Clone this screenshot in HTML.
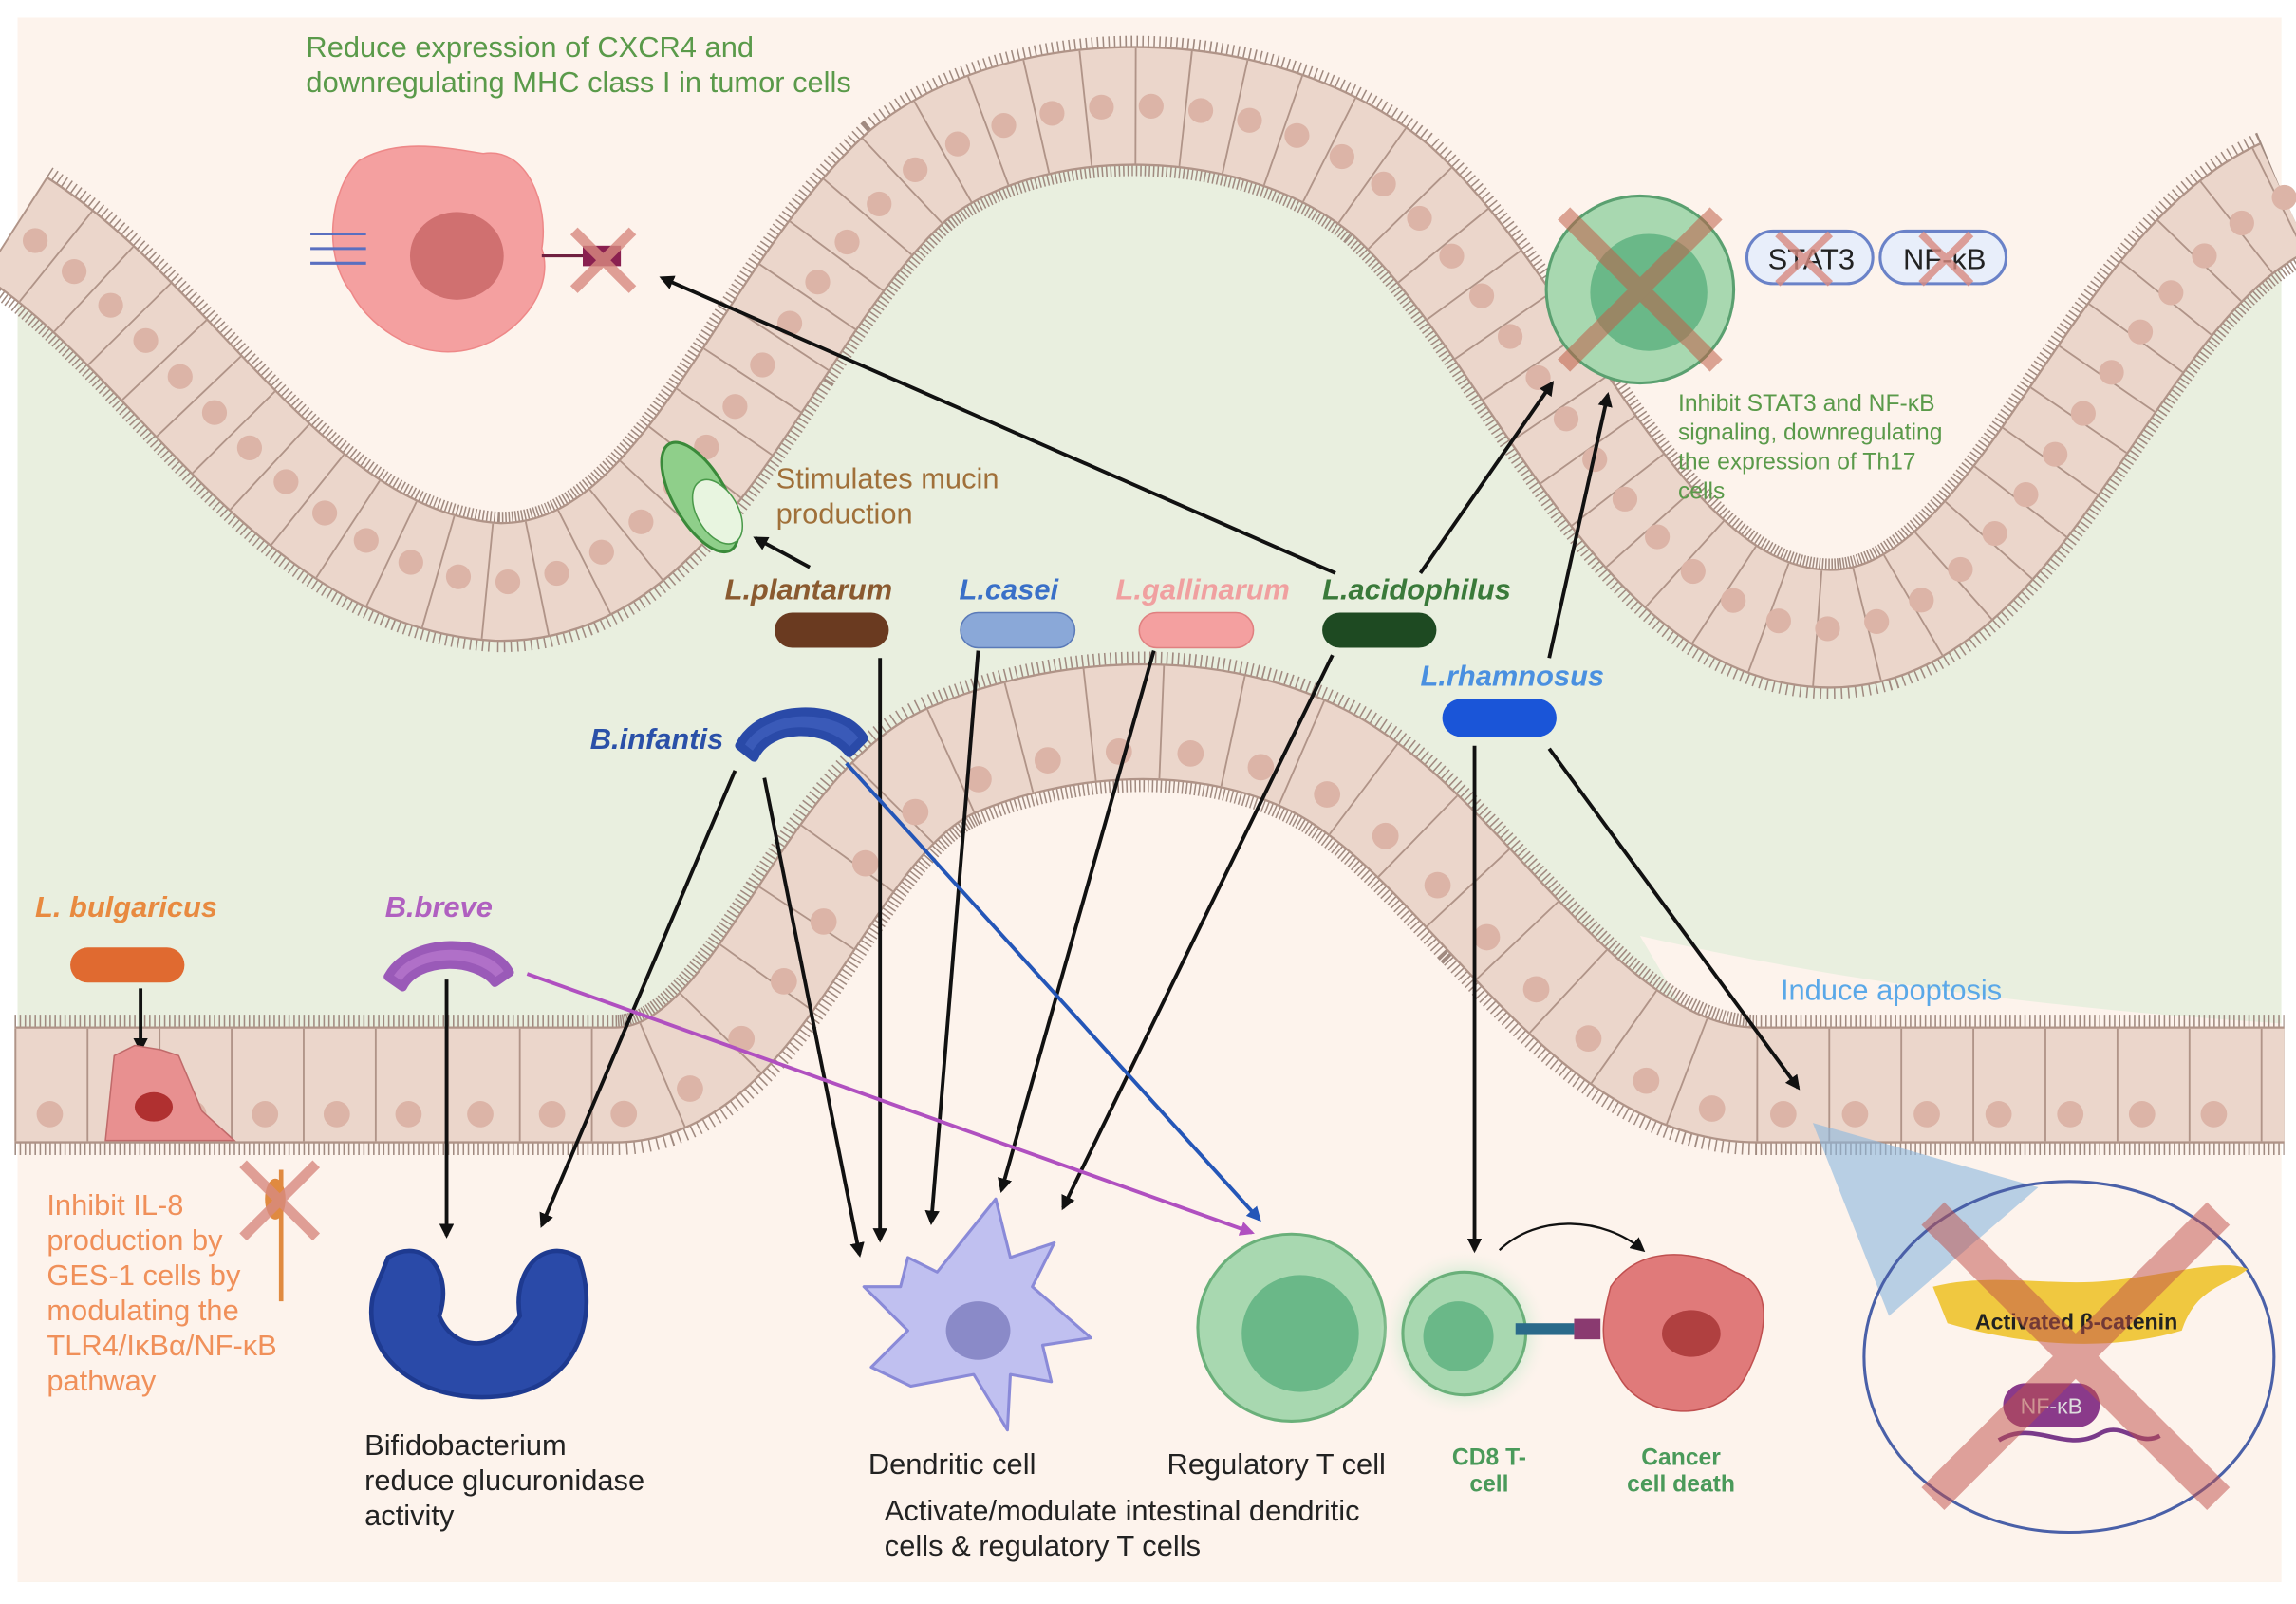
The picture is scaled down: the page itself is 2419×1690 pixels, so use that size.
<!DOCTYPE html>
<html><head><meta charset="utf-8"><style>
html,body{margin:0;padding:0;background:#fff}
svg{display:block}
text{font-family:"Liberation Sans",sans-serif}
</style></head><body>
<svg width="2419" height="1690" viewBox="0 0 1568 1097" preserveAspectRatio="none" xmlns="http://www.w3.org/2000/svg">
<defs>
<marker id="ah" markerWidth="10" markerHeight="10" refX="8" refY="5" orient="auto" markerUnits="userSpaceOnUse"><path d="M0,0 L10,5 L0,10 z" fill="#111"/></marker>
<marker id="ahb" markerWidth="10" markerHeight="10" refX="8" refY="5" orient="auto" markerUnits="userSpaceOnUse"><path d="M0,0 L10,5 L0,10 z" fill="#2456b8"/></marker>
<marker id="ahp" markerWidth="10" markerHeight="10" refX="8" refY="5" orient="auto" markerUnits="userSpaceOnUse"><path d="M0,0 L10,5 L0,10 z" fill="#b050c0"/></marker>
<radialGradient id="glow"><stop offset="0.6" stop-color="#bfe8c8"/><stop offset="1" stop-color="#fdf3ec" stop-opacity="0"/></radialGradient>
<path id="tb" d="M10,155 C120,225 200,390 340,398 C470,400 520,210 620,120 C700,55 860,55 950,130 C1050,220 1120,430 1250,430 C1380,430 1440,190 1560,135"/>
<path id="lb" d="M10,742 L420,742 C520,742 560,560 650,520 C720,490 820,480 900,520 C1000,570 1080,742 1200,742 L1560,742"/>
</defs>
<rect x="0" y="0" width="1568" height="1097" fill="#fff"/>
<rect x="12" y="12" width="1546" height="1070" fill="#e9efdf"/>
<path d="M12,12 L1558,12 L1558,135 C1440,190 1380,430 1250,430 C1120,430 1050,220 950,130 C860,55 700,55 620,120 C520,210 470,400 340,398 C200,390 120,225 12,155 Z" fill="#fdf3ec"/>
<path d="M12,742 L420,742 C520,742 560,560 650,520 C720,490 820,480 900,520 C1000,570 1080,742 1200,742 L1558,742 L1558,1082 L12,1082 Z" fill="#fdf3ec"/>
<path d="M1120,640 C1250,670 1400,690 1558,700 L1558,742 L1180,742 Z" fill="#fdf3ec"/>
<g fill="none">
<use href="#tb" stroke="#a08a80" stroke-width="96" stroke-dasharray="1 2.4"/>
<use href="#tb" stroke="#b09488" stroke-width="82"/>
<use href="#tb" stroke="#ebd6cb" stroke-width="79"/>
<use href="#tb" stroke="#b09488" stroke-width="79" stroke-dasharray="1.2 33"/>
<use href="#tb" stroke="#dcb4a7" stroke-width="17" stroke-linecap="round" stroke-dasharray="0 34" stroke-dashoffset="-17"/>
<use href="#lb" stroke="#a08a80" stroke-width="96" stroke-dasharray="1 2.4"/>
<use href="#lb" stroke="#b09488" stroke-width="80"/>
<use href="#lb" stroke="#ebd6cb" stroke-width="77"/>
<use href="#lb" stroke="#b09488" stroke-width="77" stroke-dasharray="1.2 48"/>
<use href="#lb" stroke="#dcb4a7" stroke-width="18" stroke-linecap="round" stroke-dasharray="0 49" stroke-dashoffset="-24" transform="translate(0,20)"/>
</g>
<path d="M245,110 C270,95 300,100 330,105 C360,100 375,140 370,170 C380,200 350,235 315,240 C280,245 250,220 240,200 C220,175 225,130 245,110Z" fill="#f4a0a0" stroke="#e88"/>
<ellipse cx="312" cy="175" rx="32" ry="30" fill="#d07070"/>
<g stroke="#5a6fc0" stroke-width="2"><line x1="212" y1="160" x2="250" y2="160"/><line x1="212" y1="170" x2="250" y2="170"/><line x1="212" y1="180" x2="250" y2="180"/></g>
<line x1="370" y1="175" x2="400" y2="175" stroke="#702040" stroke-width="2"/>
<rect x="398" y="168" width="26" height="14" fill="#8a2050"/>
<g stroke="#d88a80" stroke-width="7" opacity="0.8"><line x1="392" y1="158" x2="432" y2="198"/><line x1="432" y1="158" x2="392" y2="198"/></g>
<text x="209" y="39" font-size="20" fill="#5a9a4a">Reduce expression of CXCR4 and</text>
<text x="209" y="63" font-size="20" fill="#5a9a4a">downregulating MHC class I in tumor cells</text>
<ellipse cx="478" cy="340" rx="18" ry="42" transform="rotate(-30 478 340)" fill="#8fcf8a" stroke="#3a8a3a" stroke-width="2"/>
<ellipse cx="490" cy="350" rx="14" ry="24" transform="rotate(-30 490 350)" fill="#e8f5e0" stroke="#4a9a4a"/>
<text x="530" y="334" font-size="20" fill="#a0703a">Stimulates mucin</text>
<text x="530" y="358" font-size="20" fill="#a0703a">production</text>
<circle cx="1120" cy="198" r="64" fill="#a8d8b0" stroke="#5aa070" stroke-width="2"/>
<circle cx="1126" cy="200" r="40" fill="#6ab888"/>
<g stroke="#c0604a" stroke-width="12" opacity="0.55"><line x1="1068" y1="146" x2="1172" y2="250"/><line x1="1172" y1="146" x2="1068" y2="250"/></g>
<rect x="1193" y="158" width="86" height="36" rx="18" fill="#e8eefa" stroke="#6a82c8" stroke-width="2"/>
<rect x="1284" y="158" width="86" height="36" rx="18" fill="#e8eefa" stroke="#6a82c8" stroke-width="2"/>
<text x="1237" y="184" font-size="20" fill="#222" text-anchor="middle">STAT3</text>
<text x="1328" y="184" font-size="20" fill="#222" text-anchor="middle">NF-κB</text>
<g stroke="#d88a80" stroke-width="5" opacity="0.8"><line x1="1214" y1="160" x2="1250" y2="194"/><line x1="1250" y1="160" x2="1214" y2="194"/><line x1="1312" y1="160" x2="1346" y2="194"/><line x1="1346" y1="160" x2="1312" y2="194"/></g>
<g font-size="16" fill="#5a9a4a"><text x="1146" y="281">Inhibit STAT3 and NF-κB</text><text x="1146" y="301">signaling, downregulating</text><text x="1146" y="321">the expression of Th17</text><text x="1146" y="341">cells</text></g>
<g font-size="20" font-weight="bold" font-style="italic">
<text x="495" y="410" fill="#8a5a30">L.plantarum</text>
<text x="655" y="410" fill="#3a70c8">L.casei</text>
<text x="762" y="410" fill="#f0a0a0">L.gallinarum</text>
<text x="903" y="410" fill="#3a7a3a">L.acidophilus</text>
<text x="970" y="469" fill="#4a90e0">L.rhamnosus</text>
<text x="403" y="512" fill="#2a50a8">B.infantis</text>
<text x="24" y="627" fill="#e88a40">L. bulgaricus</text>
<text x="263" y="627" fill="#b060c0">B.breve</text>
</g>
<rect x="529" y="419" width="78" height="24" rx="12" fill="#6a3a20"/>
<rect x="656" y="419" width="78" height="24" rx="12" fill="#8aa8d8" stroke="#5a7ab8"/>
<rect x="778" y="419" width="78" height="24" rx="12" fill="#f4a0a0" stroke="#e08080"/>
<rect x="903" y="419" width="78" height="24" rx="12" fill="#1e4a22"/>
<rect x="985" y="478" width="78" height="26" rx="13" fill="#1a55d8"/>
<rect x="48" y="648" width="78" height="24" rx="12" fill="#e06a30"/>
<path d="M505,510 C520,480 575,480 590,505 L580,515 C565,495 525,495 515,518 Z" fill="#3a5ab8" stroke="#2a4aa8" stroke-width="6" stroke-linejoin="round"/>
<path d="M265,668 C280,640 335,640 348,665 L338,672 C325,655 285,655 275,675 Z" fill="#b070c8" stroke="#9a5ab8" stroke-width="6" stroke-linejoin="round"/>
<g stroke="#111" stroke-width="2.5" marker-end="url(#ah)">
<line x1="912" y1="392" x2="452" y2="190"/>
<line x1="553" y1="388" x2="516" y2="368"/>
<line x1="970" y1="392" x2="1060" y2="262"/>
<line x1="1058" y1="450" x2="1098" y2="270"/>
<line x1="601" y1="450" x2="601" y2="848"/>
<line x1="668" y1="445" x2="636" y2="836"/>
<line x1="788" y1="445" x2="684" y2="814"/>
<line x1="910" y1="448" x2="726" y2="826"/>
<line x1="522" y1="532" x2="587" y2="858"/>
<line x1="502" y1="527" x2="370" y2="838"/>
<line x1="305" y1="670" x2="305" y2="845"/>
<line x1="96" y1="676" x2="96" y2="718"/>
<line x1="1007" y1="510" x2="1007" y2="855"/>
<line x1="1058" y1="512" x2="1228" y2="744"/>
</g>
<line x1="578" y1="522" x2="860" y2="834" stroke="#2456b8" stroke-width="2.5" marker-end="url(#ahb)"/>
<line x1="360" y1="666" x2="855" y2="843" stroke="#b050c0" stroke-width="2.5" marker-end="url(#ahp)"/>
<path d="M1024,855 C1050,830 1095,832 1122,855" fill="none" stroke="#111" stroke-width="1.5" marker-end="url(#ah)"/>
<path d="M72,780 L78,722 L92,715 L110,718 L122,722 L138,760 L160,780 Z" fill="#e89090" stroke="#c06a6a"/>
<ellipse cx="105" cy="757" rx="13" ry="10" fill="#b03030"/>
<line x1="192" y1="800" x2="192" y2="890" stroke="#e08a40" stroke-width="3"/>
<ellipse cx="188" cy="820" rx="7" ry="14" fill="#e08a40"/>
<g stroke="#d88a80" stroke-width="7" opacity="0.8"><line x1="166" y1="796" x2="216" y2="846"/><line x1="216" y1="796" x2="166" y2="846"/></g>
<g font-size="20" fill="#f0905a"><text x="32" y="831">Inhibit IL-8</text><text x="32" y="855">production by</text><text x="32" y="879">GES-1 cells by</text><text x="32" y="903">modulating the</text><text x="32" y="927">TLR4/IκBα/NF-κB</text><text x="32" y="951">pathway</text></g>
<path d="M265,860 C290,845 310,870 300,900 C310,925 340,925 355,900 C350,870 370,845 395,860 C410,900 395,950 340,955 C290,960 245,930 255,885 Z" fill="#2a4aa8" stroke="#1e3a90" stroke-width="3"/>
<g font-size="20" fill="#222"><text x="249" y="995">Bifidobacterium</text><text x="249" y="1019">reduce glucuronidase</text><text x="249" y="1043">activity</text></g>
<path d="M620,860 L640,870 L680,820 L690,860 L720,850 L705,880 L745,915 L712,920 L718,945 L690,940 L688,978 L665,940 L622,948 L595,935 L620,910 L590,880 L615,880 Z" fill="#c0c0f0" stroke="#8a8ad8" stroke-width="2" stroke-linejoin="round"/>
<ellipse cx="668" cy="910" rx="22" ry="20" fill="#8a8ac8"/>
<text x="593" y="1008" font-size="20" fill="#222">Dendritic cell</text>
<circle cx="882" cy="908" r="64" fill="#a8d8b0" stroke="#6ab07a" stroke-width="2"/>
<circle cx="888" cy="912" r="40" fill="#6ab888"/>
<text x="797" y="1008" font-size="20" fill="#222">Regulatory T cell</text>
<circle cx="1000" cy="912" r="58" fill="url(#glow)"/>
<circle cx="1000" cy="912" r="42" fill="#a8d8b0" stroke="#6ab07a" stroke-width="2"/>
<circle cx="996" cy="914" r="24" fill="#6ab888"/>
<rect x="1035" y="905" width="40" height="8" fill="#2a6a8a"/>
<rect x="1075" y="902" width="18" height="14" fill="#8a3a70"/>
<path d="M1100,880 C1120,850 1160,855 1185,870 C1215,880 1205,920 1190,945 C1170,975 1120,970 1105,940 C1090,920 1095,900 1100,880Z" fill="#e07a7a" stroke="#c05050"/>
<ellipse cx="1155" cy="912" rx="20" ry="16" fill="#b04040"/>
<g font-size="16" font-weight="bold" fill="#4a9a5a" text-anchor="middle"><text x="1017" y="1002">CD8 T-</text><text x="1017" y="1020">cell</text><text x="1148" y="1002">Cancer</text><text x="1148" y="1020">cell death</text></g>
<g font-size="20" fill="#222"><text x="604" y="1040">Activate/modulate intestinal dendritic</text><text x="604" y="1064">cells &amp; regulatory T cells</text></g>
<text x="1216" y="684" font-size="20" fill="#5aa8e8">Induce apoptosis</text>
<path d="M1238,768 L1392,812 L1290,900 Z" fill="#8ab8e0" opacity="0.6"/>
<ellipse cx="1413" cy="928" rx="140" ry="120" fill="none" stroke="#4a60a8" stroke-width="2"/>
<path d="M1320,880 C1360,870 1400,880 1440,876 C1480,872 1520,860 1535,868 C1520,880 1500,880 1490,910 C1440,925 1380,920 1330,905 Z" fill="#f0c840"/>
<text x="1418" y="909" font-size="15" font-weight="bold" fill="#222" text-anchor="middle">Activated β-catenin</text>
<rect x="1368" y="946" width="66" height="30" rx="15" fill="#8a3a8a"/>
<text x="1401" y="967" font-size="15" fill="#ddd" text-anchor="middle">NF-κB</text>
<path d="M1365,985 C1390,970 1410,995 1435,980 C1450,972 1460,990 1475,982" stroke="#7a3a8a" stroke-width="3" fill="none"/>
<g stroke="#c0504a" stroke-width="22" opacity="0.5"><line x1="1320" y1="830" x2="1515" y2="1025"/><line x1="1515" y1="830" x2="1320" y2="1025"/></g>
</svg>
</body></html>
